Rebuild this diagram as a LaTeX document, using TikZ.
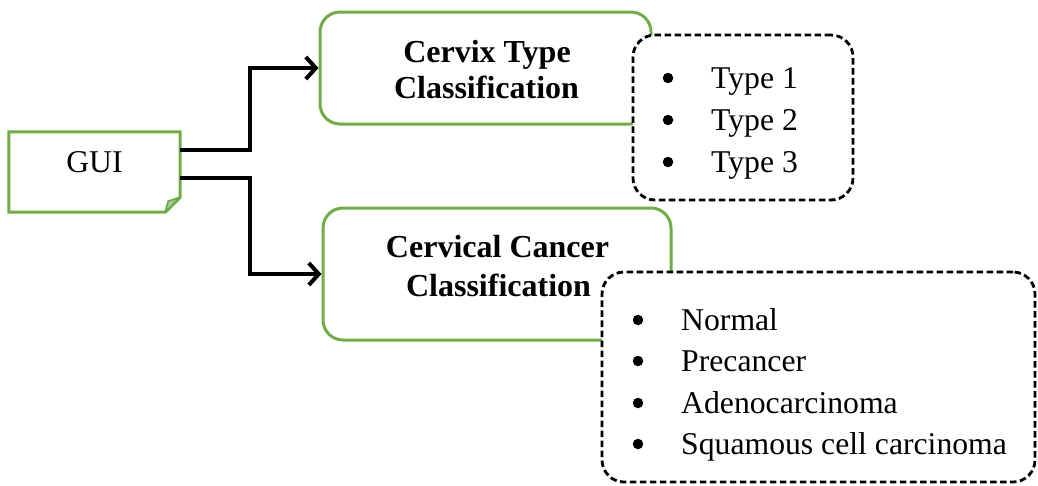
\documentclass[tikz,border=0pt]{standalone}
\usepackage{fontspec}
\setmainfont{Liberation Serif}
\usetikzlibrary{arrows.meta,calc}
\definecolor{leaf}{HTML}{70AD47}
\definecolor{foldfill}{HTML}{AFC9A0}
\begin{document}
\begin{tikzpicture}[x=1pt,y=-1pt,
  txt/.style={font=\fontsize{31.7}{36}\selectfont, inner sep=0pt},
  head/.style={txt, font=\fontsize{32}{36}\selectfont\bfseries, anchor=base},
  item/.style={txt, anchor=base west},
  dot/.style={circle, fill=black, inner sep=0pt, minimum size=10.5pt},
  greenbox/.style={draw=leaf, line width=3pt, rounded corners=20pt, fill=white, inner sep=0pt},
  listbox/.style={draw=black, line width=2.8pt, dash pattern=on 6.5pt off 3.5pt, rounded corners=22pt, fill=white, inner sep=0pt},
  link/.style={draw=black, line width=4pt, -{Straight Barb[length=10pt,width=22pt]}}
]
\useasboundingbox (0,0) rectangle (1038,485);

% GUI note with a folded corner
\node[inner sep=0pt, minimum width=171pt, minimum height=80pt] (gui) at (94.5,172) {};
\draw[draw=leaf, line width=3pt, fill=white, line join=miter]
  (gui.north west) -- (gui.north east) -- ($(gui.south east)+(0,-15)$)
  -- ($(gui.south east)+(-15,0)$) -- (gui.south west) -- cycle;
\fill[foldfill, draw=leaf, line width=1.8pt, line join=round]
  ($(gui.south east)+(-15,0)$) -- ($(gui.south east)+(-12,-11)$) -- ($(gui.south east)+(0,-15)$) -- cycle;
\node[txt, anchor=base] (guitext) at (94.5,172) {GUI};

% classification boxes
\node[greenbox, minimum width=331pt, minimum height=112pt] (cervix) at (485.5,68) {};
\node[greenbox, minimum width=348pt, minimum height=132pt] (cancer) at (497,274) {};

% class lists
\node[listbox, minimum width=220pt, minimum height=165pt] (types) at (743,117.5) {};
\node[listbox, minimum width=433pt, minimum height=210pt] (kinds) at (818.5,377) {};

% headings
\node[head] (h1a) at (487,62) {Cervix Type};
\node[head] (h1b) at (486.5,98) {Classification};
\node[head] (h2a) at (497.5,257) {Cervical Cancer};
\node[head] (h2b) at (498.5,296) {Classification};

% list items of the type box
\node[dot] (b1) at (668,78) {};
\node[item] (t1) at (711,88) {Type 1};
\node[dot] (b2) at (668,120) {};
\node[item] (t2) at (711,130) {Type 2};
\node[dot] (b3) at (668,162) {};
\node[item] (t3) at (711,172) {Type 3};

% list items of the cancer box
\node[dot] (c1) at (638,320) {};
\node[item] (k1) at (681,330) {Normal};
\node[dot] (c2) at (638,361) {};
\node[item] (k2) at (681,371) {Precancer};
\node[dot] (c3) at (638,403) {};
\node[item] (k3) at (681,413) {Adenocarcinoma};
\node[dot] (c4) at (638,444) {};
\node[item] (k4) at (681,454) {Squamous cell carcinoma};

% connectors
\coordinate (out1) at ($(gui.north east)!0.225!(gui.south east)$);
\coordinate (out2) at ($(gui.north east)!0.575!(gui.south east)$);
\draw[link] (out1) -- ++(70,0) |- (cervix.west);
\draw[link] (out2) -- ++(70,0) |- (cancer.west);
\end{tikzpicture}
\end{document}
